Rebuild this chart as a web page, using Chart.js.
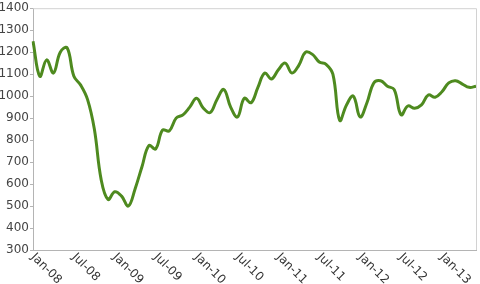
<!DOCTYPE html>
<html>
<head>
<meta charset="utf-8">
<script src="https://cdn.jsdelivr.net/npm/chart.js@4.4.1/dist/chart.umd.min.js"></script>
<style>
  html, body { margin: 0; padding: 0; background: #fff; }
  #wrap { width: 480px; height: 284px; }
</style>
</head>
<body>
<div id="wrap"><canvas id="lineChart" width="480" height="284"></canvas></div>
<script>
// meses (categorias)
const months = [
    'Jan-08','Feb-08','Mar-08','Apr-08','May-08','Jun-08','Jul-08','Aug-08','Sep-08','Oct-08','Nov-08','Dec-08',
    'Jan-09','Feb-09','Mar-09','Apr-09','May-09','Jun-09','Jul-09','Aug-09','Sep-09','Oct-09','Nov-09','Dec-09',
    'Jan-10','Feb-10','Mar-10','Apr-10','May-10','Jun-10','Jul-10','Aug-10','Sep-10','Oct-10','Nov-10','Dec-10',
    'Jan-11','Feb-11','Mar-11','Apr-11','May-11','Jun-11','Jul-11','Aug-11','Sep-11','Oct-11','Nov-11','Dec-11',
    'Jan-12','Feb-12','Mar-12','Apr-12','May-12','Jun-12','Jul-12','Aug-12','Sep-12','Oct-12','Nov-12','Dec-12',
    'Jan-13','Feb-13','Mar-13','Apr-13','May-13','Jun-13'
];

const values = [
    1250, 1090, 1165, 1105, 1200, 1220, 1090, 1050, 985, 850, 620, 530,
    565, 545, 500, 580, 680, 775, 760, 845, 842, 900, 915, 950,
    990, 945, 925, 985, 1030, 950, 905, 990, 970, 1040, 1105, 1078,
    1120, 1150, 1105, 1140, 1200, 1190, 1155, 1145, 1100, 890, 960, 1000,
    905, 970, 1060, 1070, 1045, 1030, 915, 955, 945, 960, 1005, 995,
    1020, 1060, 1070, 1055, 1040, 1045
];

// etiquetas que se muestran en el eje x
const xTickLabels = ['Jan-08','Jul-08','Jan-09','Jul-09','Jan-10','Jul-10','Jan-11','Jul-11','Jan-12','Jul-12','Jan-13'];
const yTicks = [300, 400, 500, 600, 700, 800, 900, 1000, 1100, 1200, 1300, 1400];

const FONT = 'DejaVu Sans, sans-serif';

// etiquetas giradas hacia abajo a la derecha + borde superior/derecho
const slantedLabels = {
    id: 'slantedLabels',
    afterDraw(chart) {
        const ctx = chart.ctx;
        const area = chart.chartArea;
        const xs = chart.scales.x;

        ctx.save();
        ctx.strokeStyle = '#d2d2d2';
        ctx.lineWidth = 1;
        ctx.beginPath();
        ctx.moveTo(area.left, area.top + 0.5);
        ctx.lineTo(area.right + 0.5, area.top + 0.5);
        ctx.lineTo(area.right + 0.5, area.bottom);
        ctx.stroke();

        ctx.fillStyle = '#333';
        ctx.font = '12px ' + FONT;
        ctx.textAlign = 'left';
        ctx.textBaseline = 'top';
        xTickLabels.forEach(lbl => {
            const px = xs.getPixelForValue(months.indexOf(lbl));
            ctx.save();
            ctx.translate(px + 4, area.bottom + 1);
            ctx.rotate(Math.PI / 4);
            ctx.fillText(lbl, 0, 0);
            ctx.restore();
        });
        ctx.restore();
    }
};

const ctx = document.getElementById('lineChart').getContext('2d');
new Chart(ctx, {
    type: 'line',
    data: {
        labels: months,
        datasets: [{
            data: values,
            borderColor: '#4e8a1f',
            borderWidth: 3,
            pointRadius: 0,
            tension: 0.4,
            fill: false
        }]
    },
    options: {
        responsive: false,
        animation: false,
        layout: { padding: { top: 5, right: 4, bottom: 34, left: 0 } },
        plugins: {
            legend: { display: false },
            tooltip: { enabled: false }
        },
        scales: {
            x: {
                grid: { display: false },
                border: { display: true, color: '#b4b4b4', width: 1 },
                ticks: { display: false },
                afterFit: s => { s.height = 0; }
            },
            y: {
                min: 300,
                max: 1400,
                afterBuildTicks: s => { s.ticks = yTicks.map(v => ({ value: v })); },
                grid: { drawOnChartArea: false, drawTicks: true, tickLength: 3, color: '#b4b4b4' },
                border: { display: true, color: '#b4b4b4', width: 1 },
                ticks: {
                    color: '#444',
                    font: { family: FONT, size: 12 },
                    padding: 1,
                    callback: v => String(v)
                },
                afterFit: s => { s.width = 33; }
            }
        }
    },
    plugins: [slantedLabels]
});
</script>
</body>
</html>
